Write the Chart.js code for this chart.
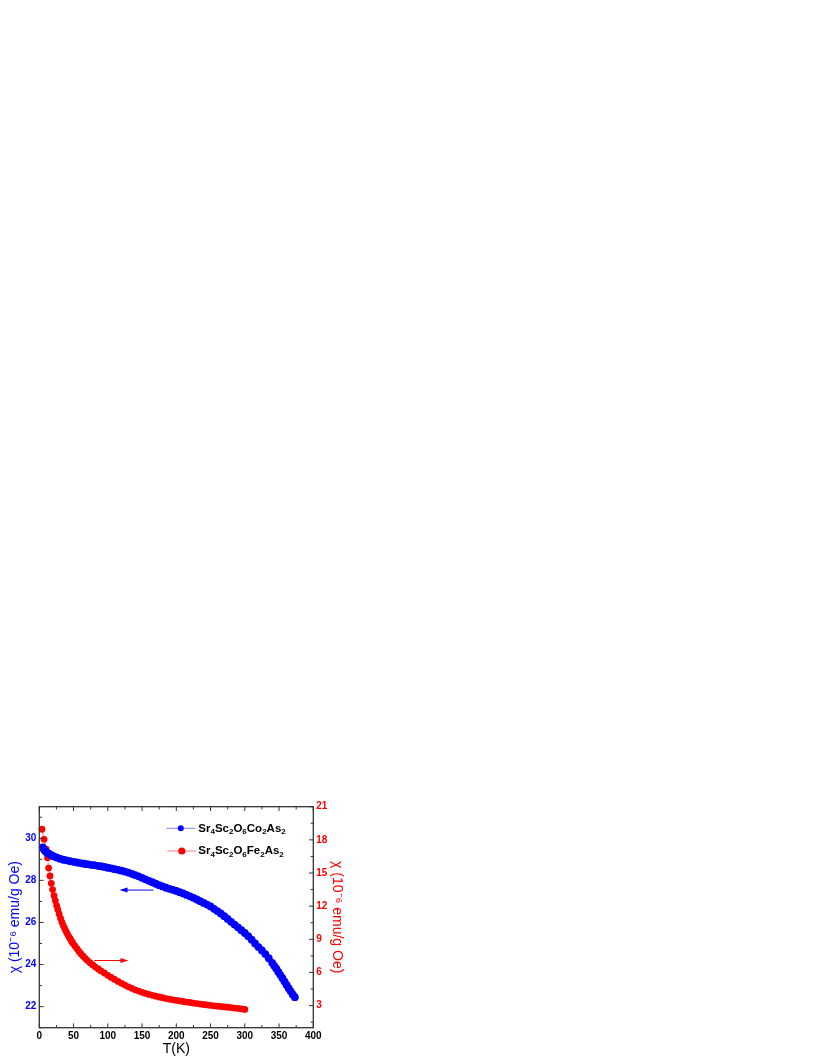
<!DOCTYPE html>
<html>
<head>
<meta charset="utf-8">
<script src="https://cdn.jsdelivr.net/npm/chart.js@4.4.0/dist/chart.umd.min.js"></script>
<style>
  html, body { margin: 0; padding: 0; background: #fff; }
  #chi { position: absolute; left: 0; top: 0; }
</style>
</head>
<body>
<canvas id="chi" width="817" height="1058" style="width:817px;height:1058px"></canvas>
<script>
// Sr4Sc2O6Co2As2, left axis
const tempCo = [5, 7, 9, 11, 13, 15, 18, 21, 25,
  30, 35, 40, 45, 50, 55, 60, 65, 70, 75, 80, 85, 90, 95, 100, 105, 110, 115, 120, 125,
  130, 135, 140, 145, 150, 155, 160, 165, 170, 175, 180, 185, 190, 195, 200, 205, 210,
  215, 220, 225, 230, 235, 240, 245, 250, 255, 260, 265, 270, 275, 280, 285, 290, 295,
  300, 305, 310, 315, 320, 325, 330, 335, 340,
  343, 346, 349, 352, 355, 358, 361, 364, 367, 370, 373];
const chiCo = [29.57, 29.45, 29.38, 29.32, 29.28, 29.24, 29.19, 29.14, 29.09,
  29.03, 28.98, 28.95, 28.91, 28.88, 28.85, 28.82, 28.79, 28.77, 28.74, 28.72, 28.69, 28.67, 28.64, 28.60, 28.57, 28.53, 28.50, 28.46, 28.42,
  28.37, 28.31, 28.25, 28.19, 28.12, 28.05, 27.98, 27.91, 27.84, 27.77, 27.71, 27.65, 27.60, 27.55, 27.50, 27.44, 27.38,
  27.31, 27.24, 27.17, 27.09, 27.01, 26.93, 26.85, 26.76, 26.65, 26.54, 26.43, 26.30, 26.17, 26.03, 25.90, 25.77, 25.63,
  25.50, 25.35, 25.18, 25.00, 24.83, 24.67, 24.50, 24.30, 24.08,
  23.94, 23.80, 23.65, 23.50, 23.35, 23.19, 23.03, 22.88, 22.73, 22.58, 22.45];

// Sr4Sc2O6Fe2As2, right axis
const tempFe = [4, 7, 10, 12, 13.6, 15.6, 17.5, 19.4, 21.5, 23.4, 25.3, 27,
  29, 31, 33, 35, 37, 39, 41, 43, 45, 47, 49,
  52, 55, 58, 61, 64, 67, 70,
  74, 78, 82, 86, 90,
  95, 100, 105, 110, 115, 120, 125, 130, 135, 140, 145, 150, 155, 160, 165, 170, 175, 180,
  185, 190, 195, 200, 205, 210, 215, 220, 225, 230, 235, 240, 245, 250, 255, 260, 265, 270,
  275, 280, 285, 290, 295, 300];
const chiFe = [18.96, 18.05, 17.15, 16.39, 15.45, 14.73, 14.07, 13.50, 12.95, 12.50, 12.05, 11.70,
  11.30, 10.90, 10.55, 10.25, 9.98, 9.72, 9.48, 9.25, 9.05, 8.85, 8.65,
  8.40, 8.15, 7.90, 7.68, 7.47, 7.28, 7.10,
  6.88, 6.68, 6.49, 6.31, 6.14,
  5.95, 5.74, 5.55, 5.37, 5.19, 5.02, 4.86, 4.70, 4.56, 4.43, 4.31, 4.20, 4.10, 4.01, 3.93, 3.85, 3.78, 3.71,
  3.64, 3.58, 3.52, 3.47, 3.42, 3.37, 3.32, 3.28, 3.23, 3.18, 3.14, 3.10, 3.06, 3.02, 2.98, 2.95, 2.92, 2.88,
  2.85, 2.82, 2.78, 2.74, 2.70, 2.65];

const seriesNames = ['Sr4Sc2O6Co2As2', 'Sr4Sc2O6Fe2As2'];
const seriesColors = ['#0000ff', '#ff0000'];
const lineColors = ['rgba(0,0,255,0.5)', 'rgba(255,0,0,0.5)'];

const tickT = [0, 50, 100, 150, 200, 250, 300, 350, 400];
const tickCo = [22, 24, 26, 28, 30];
const tickFe = [3, 6, 9, 12, 15, 18, 21];

// arrows: [T start, T end, value] in the axis of each series
const arrowCo = [166.6, 117.1, 27.54];
const arrowFe = [80.2, 130, 7.08];

const fontFamily = "'Liberation Sans', Arial, Helvetica, sans-serif";
const tickFont = { family: fontFamily, size: 10, weight: 'bold' };
const titleFont = { family: fontFamily, size: 14, weight: 'normal' };

function zipPoints(xs, ys) {
  return xs.map((x, i) => ({ x: x, y: ys[i] }));
}

function minorValues(majors, min, max) {
  const step = majors[1] - majors[0];
  let v = majors[0] - step / 2;
  while (v - step >= min) v -= step;
  const out = [];
  for (; v <= max + 1e-9; v += step) if (v >= min - 1e-9) out.push(v);
  return out;
}

const framePlugin = {
  id: 'framePlugin',
  afterDraw(chart) {
    const { ctx, chartArea: a, scales } = chart;
    ctx.save();
    ctx.strokeStyle = '#333';
    ctx.lineWidth = 1.3;
    ctx.strokeRect(a.left, a.top, a.right - a.left, a.bottom - a.top);

    ctx.lineWidth = 1;
    const major = 4.3, minor = 2.7;
    ctx.beginPath();
    // x ticks, bottom and top
    const xs = scales.x;
    tickT.forEach(v => {
      const p = xs.getPixelForValue(v);
      ctx.moveTo(p, a.bottom); ctx.lineTo(p, a.bottom - major);
      ctx.moveTo(p, a.top); ctx.lineTo(p, a.top + major);
    });
    minorValues(tickT, xs.min, xs.max).forEach(v => {
      const p = xs.getPixelForValue(v);
      ctx.moveTo(p, a.bottom); ctx.lineTo(p, a.bottom - minor);
      ctx.moveTo(p, a.top); ctx.lineTo(p, a.top + minor);
    });
    // left axis
    const yl = scales.y;
    tickCo.forEach(v => {
      const p = yl.getPixelForValue(v);
      ctx.moveTo(a.left, p); ctx.lineTo(a.left + major, p);
    });
    minorValues(tickCo, yl.min, yl.max).forEach(v => {
      const p = yl.getPixelForValue(v);
      ctx.moveTo(a.left, p); ctx.lineTo(a.left + minor, p);
    });
    // right axis
    const yr = scales.y1;
    tickFe.forEach(v => {
      const p = yr.getPixelForValue(v);
      ctx.moveTo(a.right, p); ctx.lineTo(a.right - major, p);
    });
    minorValues(tickFe, yr.min, yr.max).forEach(v => {
      const p = yr.getPixelForValue(v);
      ctx.moveTo(a.right, p); ctx.lineTo(a.right - minor, p);
    });
    ctx.stroke();

    // arrows
    function arrow(t0, t1, val, yScale, color) {
      const x0 = xs.getPixelForValue(t0), x1 = xs.getPixelForValue(t1);
      const y = yScale.getPixelForValue(val);
      const dir = x1 > x0 ? 1 : -1;
      ctx.strokeStyle = color; ctx.fillStyle = color; ctx.lineWidth = 1;
      ctx.beginPath();
      ctx.moveTo(x0, y); ctx.lineTo(x1 - dir * 6, y);
      ctx.stroke();
      ctx.beginPath();
      ctx.moveTo(x1, y);
      ctx.lineTo(x1 - dir * 8, y - 2.5);
      ctx.lineTo(x1 - dir * 8, y + 2.5);
      ctx.closePath();
      ctx.fill();
    }
    arrow(arrowCo[0], arrowCo[1], arrowCo[2], yl, seriesColors[0]);
    arrow(arrowFe[0], arrowFe[1], arrowFe[2], yr, seriesColors[1]);

    // legend with subscript digits
    const rows = [a.top + 21.6, a.top + 44.3];
    const dotR = [3, 3.6];
    seriesNames.forEach((name, i) => {
      const y = rows[i];
      const lx = a.left + 127 + i;
      ctx.strokeStyle = lineColors[i];
      ctx.lineWidth = 1;
      ctx.beginPath();
      ctx.moveTo(lx, y); ctx.lineTo(lx + 29, y);
      ctx.stroke();
      ctx.fillStyle = seriesColors[i];
      ctx.beginPath();
      ctx.arc(lx + 14.5, y, dotR[i], 0, Math.PI * 2);
      ctx.fill();

      let tx = a.left + 159;
      const base = y + 3.4;
      ctx.fillStyle = '#000';
      ctx.textBaseline = 'alphabetic';
      ctx.textAlign = 'left';
      name.split(/(\d+)/).forEach(part => {
        if (!part) return;
        const sub = /^\d+$/.test(part);
        ctx.font = 'bold ' + (sub ? 8 : 11.5) + 'px ' + fontFamily;
        ctx.fillText(part, tx, sub ? base + 2.7 : base);
        tx += ctx.measureText(part).width;
      });
    });
    ctx.restore();
  }
};

const ctx = document.getElementById('chi');
new Chart(ctx, {
  type: 'scatter',
  data: {
    datasets: [
      {
        label: seriesNames[0],
        data: zipPoints(tempCo, chiCo),
        yAxisID: 'y',
        backgroundColor: seriesColors[0],
        borderColor: lineColors[0],
        borderWidth: 1,
        pointBorderWidth: 0,
        pointRadius: 3.9,
        showLine: true,
        clip: false
      },
      {
        label: seriesNames[1],
        data: zipPoints(tempFe, chiFe),
        yAxisID: 'y1',
        backgroundColor: seriesColors[1],
        borderColor: lineColors[1],
        borderWidth: 1,
        pointBorderWidth: 0,
        pointRadius: 3.4,
        showLine: true,
        clip: false
      }
    ]
  },
  options: {
    responsive: false,
    animation: false,
    devicePixelRatio: 1,
    events: [],
    layout: { padding: { left: 0, top: 806.7, right: 463.7, bottom: 0 } },
    plugins: { legend: { display: false }, tooltip: { enabled: false } },
    scales: {
      x: {
        type: 'linear', position: 'bottom', min: 0, max: 400,
        afterBuildTicks: s => { s.ticks = tickT.map(v => ({ value: v })); },
        afterFit: s => { s.height = 30.3; },
        grid: { display: false, drawTicks: false },
        border: { display: false },
        ticks: { font: tickFont, color: '#000', padding: 3, maxRotation: 0, autoSkip: false },
        title: { display: true, text: 'T(K)', font: titleFont, color: '#000', padding: { top: 0, bottom: 0 } }
      },
      y: {
        type: 'linear', position: 'left', min: 21, max: 31.5,
        afterBuildTicks: s => { s.ticks = tickCo.map(v => ({ value: v })); },
        afterFit: s => { s.width = 39.3; },
        grid: { display: false, drawTicks: false },
        border: { display: false },
        ticks: { font: tickFont, color: seriesColors[0], padding: 3, autoSkip: false },
        title: { display: true, text: 'χ (10⁻⁶ emu/g Oe)', font: titleFont, color: seriesColors[0], padding: { top: 6.6, bottom: 0 } }
      },
      y1: {
        type: 'linear', position: 'right', min: 1, max: 21,
        afterBuildTicks: s => { s.ticks = tickFe.map(v => ({ value: v })); },
        afterFit: s => { s.width = 40; },
        grid: { display: false, drawTicks: false },
        border: { display: false },
        ticks: { font: tickFont, color: seriesColors[1], padding: 3, autoSkip: false },
        title: { display: true, text: 'χ (10⁻⁶ emu/g Oe)', font: titleFont, color: seriesColors[1], padding: { top: 8.2, bottom: 0 } }
      }
    }
  },
  plugins: [framePlugin]
});
</script>
</body>
</html>
